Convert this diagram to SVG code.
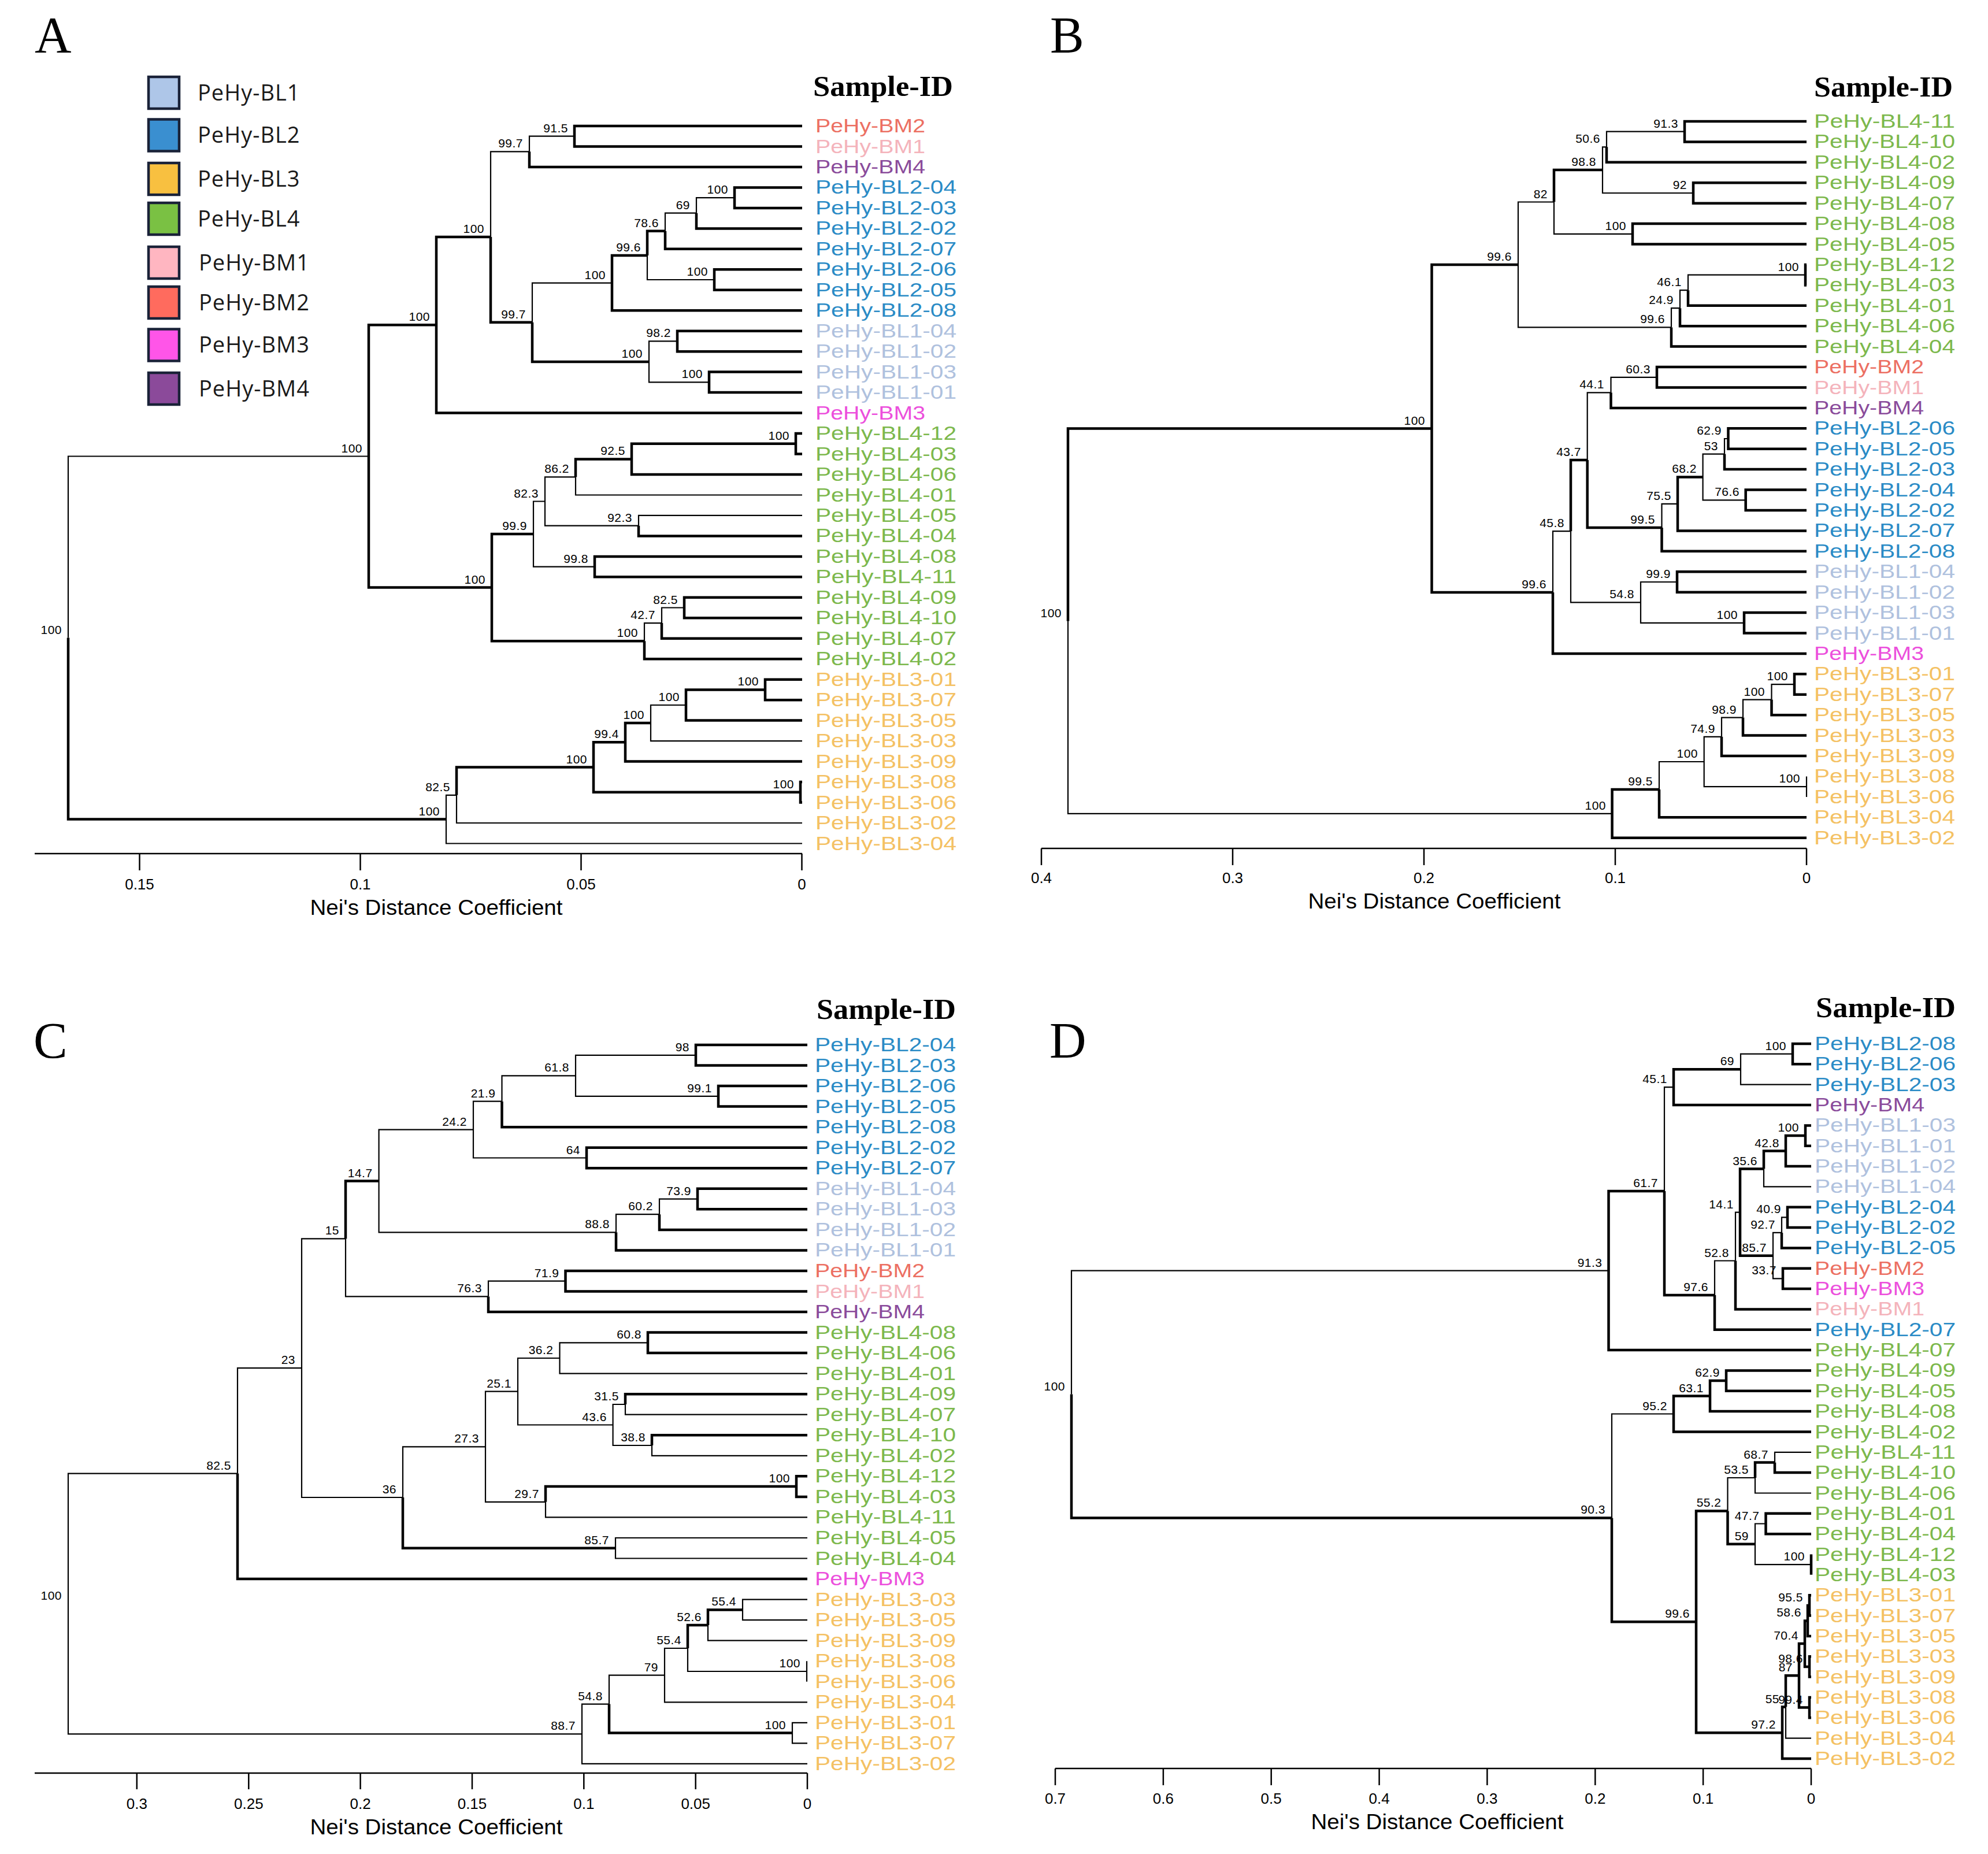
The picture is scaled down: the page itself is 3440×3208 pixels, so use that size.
<svg xmlns="http://www.w3.org/2000/svg" width="3440" height="3208" viewBox="0 0 3440 3208">
<style>
.bg{fill:#fff}
.e{fill:none;stroke:#000;stroke-linejoin:miter;stroke-linecap:butt}
.k{stroke-width:4.5}
.t{stroke-width:2.2}
.ax{fill:none;stroke:#000;stroke-width:2.5}
.nl{font-family:"Liberation Sans",Arial,Helvetica,sans-serif;font-size:21px;text-anchor:end;fill:#000;letter-spacing:0.5px}
.lf{font-family:"Liberation Sans",Arial,Helvetica,sans-serif;font-size:33px}
.tk{font-family:"Liberation Sans",Arial,Helvetica,sans-serif;font-size:26px;text-anchor:middle;fill:#000}
.ttl{font-family:"Liberation Sans",Arial,Helvetica,sans-serif;font-size:36px;text-anchor:middle;fill:#000}
.sid{font-family:"Liberation Serif","Times New Roman",serif;font-weight:bold;font-size:50px;fill:#000}
.pl{font-family:"Liberation Serif","Times New Roman",serif;font-size:88px;fill:#000}
.lg{font-family:"Open Sans","DejaVu Sans",sans-serif;font-size:38px;letter-spacing:1px;fill:#1a1a1a}
.lgb{stroke:#1a2238;stroke-width:4.5}
.c1{fill:#afc1de}.c2{fill:#2a8bc6}.c3{fill:#f4c163}.c4{fill:#7cb84c}
.m1{fill:#f4b3bb}.m2{fill:#ec6f62}.m3{fill:#ec4fdc}.m4{fill:#8a4b9b}
</style>
<rect class="bg" x="0" y="0" width="3440" height="3208"/>

<g id="legend">
<g id="leg-BL1"><rect class="lgb" x="257" y="133" width="53" height="55" fill="#aec6e8"/><text class="lg" x="342" y="173.5">PeHy-BL1</text></g>
<g id="leg-BL2"><rect class="lgb" x="257" y="206.5" width="53" height="55" fill="#3a8fd0"/><text class="lg" x="342" y="247">PeHy-BL2</text></g>
<g id="leg-BL3"><rect class="lgb" x="257" y="282" width="53" height="55" fill="#f8c040"/><text class="lg" x="342" y="322.5">PeHy-BL3</text></g>
<g id="leg-BL4"><rect class="lgb" x="257" y="351" width="53" height="55" fill="#7ac143"/><text class="lg" x="342" y="391.5">PeHy-BL4</text></g>
<g id="leg-BM1"><rect class="lgb" x="257" y="427" width="53" height="55" fill="#ffb6c1"/><text class="lg" x="344" y="467.5">PeHy-BM1</text></g>
<g id="leg-BM2"><rect class="lgb" x="257" y="496" width="53" height="55" fill="#ff6b5e"/><text class="lg" x="344" y="536.5">PeHy-BM2</text></g>
<g id="leg-BM3"><rect class="lgb" x="257" y="569.5" width="53" height="55" fill="#ff55e8"/><text class="lg" x="344" y="610">PeHy-BM3</text></g>
<g id="leg-BM4"><rect class="lgb" x="257" y="645" width="53" height="55" fill="#8b4a9a"/><text class="lg" x="344" y="685.5">PeHy-BM4</text></g>
</g>

<!-- ================= PANEL A ================= -->
<g id="panelA">
<text class="pl" x="60" y="90">A</text>
<text class="sid" x="1407" y="166" textLength="242" lengthAdjust="spacingAndGlyphs">Sample-ID</text>
<g id="A-connectors">
<path class="e k" d="M994 235.7V218H1388M994 235.7V253.5H1388M916 262.3V288.9H1388M1271 342.1V324.4H1388M1271 342.1V359.9H1388M1205 368.7V395.4H1388M1151 399.8V430.8H1388M1236 484V466.3H1388M1236 484V501.8H1388M1120 441.9V399.8H1151M1059 489.6V441.9H1120M1059 489.6V537.2H1388M1172 590.4V572.7H1388M1172 590.4V608.2H1388M1227 661.4V643.6H1388M1227 661.4V679.1H1388M921 557.7V625.9H1123M849 410V557.7H921M755 562.3V410H849M755 562.3V714.6H1388M638 789.5V562.3H755M638 789.5V1016.6H851M1377 767.8V750.1H1388M1377 767.8V785.5H1388M1093 794.4V767.8H1377M1093 794.4V821H1388M996 825.4V794.4H1093M1105 909.7V927.4H1388M1029 980.6V962.9H1388M1029 980.6V998.3H1388M1184 1051.5V1033.8H1388M1184 1051.5V1069.3H1388M1145 1078.1V1104.8H1388M1115 1109.2V1140.2H1388M851 1016.6V924.1H923M851 1016.6V1109.2H1115M1324 1193.4V1175.7H1388M1324 1193.4V1211.2H1388M1187 1220V1193.4H1324M1187 1220V1246.6H1388M1082 1284.3V1251.1H1126M1082 1284.3V1317.6H1388M1385 1370.8V1353H1388M1385 1370.8V1388.5H1388M1027 1327.5V1284.3H1082M1027 1327.5V1370.8H1385M790 1375.8V1327.5H1027M118 1103.6V1417.6H772"/>
<path class="e t" d="M916 262.3V235.7H994M1205 368.7V342.1H1271M1151 399.8V368.7H1205M1120 441.9V484H1236M1123 625.9V590.4H1172M1123 625.9V661.4H1227M921 557.7V489.6H1059M849 410V262.3H916M996 825.4V856.5H1388M1105 909.7V891.9H1388M943 867.5V825.4H996M943 867.5V909.7H1105M923 924.1V867.5H943M923 924.1V980.6H1029M1145 1078.1V1051.5H1184M1115 1109.2V1078.1H1145M1126 1251.1V1220H1187M1126 1251.1V1282.1H1388M790 1375.8V1424H1388M772 1417.6V1375.8H790M772 1417.6V1459.5H1388M118 1103.6V789.5H638"/>
</g>
<g id="A-axis">
<path class="ax" d="M60 1477H1388M241.5 1477V1506M623.5 1477V1506M1005.5 1477V1506M1387.5 1477V1506"/>
<text class="tk" x="241.5" y="1539">0.15</text><text class="tk" x="623.5" y="1539">0.1</text><text class="tk" x="1005.5" y="1539">0.05</text><text class="tk" x="1387.5" y="1539">0</text>
<text class="ttl" x="755" y="1583" textLength="437" lengthAdjust="spacingAndGlyphs">Nei's Distance Coefficient</text>
</g>
<g id="A-nodes">
<g id="A-n1"><text class="nl" x="983" y="228.7">91.5</text></g>
<g id="A-n2"><text class="nl" x="905" y="255.3">99.7</text></g>
<g id="A-n3"><text class="nl" x="1260" y="335.1">100</text></g>
<g id="A-n4"><text class="nl" x="1194" y="361.7">69</text></g>
<g id="A-n5"><text class="nl" x="1140" y="392.8">78.6</text></g>
<g id="A-n6"><text class="nl" x="1225" y="477">100</text></g>
<g id="A-n7"><text class="nl" x="1109" y="434.9">99.6</text></g>
<g id="A-n8"><text class="nl" x="1048" y="482.6">100</text></g>
<g id="A-n9"><text class="nl" x="1161" y="583.4">98.2</text></g>
<g id="A-n10"><text class="nl" x="1216" y="654.4">100</text></g>
<g id="A-n11"><text class="nl" x="1112" y="618.9">100</text></g>
<g id="A-n12"><text class="nl" x="910" y="550.7">99.7</text></g>
<g id="A-n13"><text class="nl" x="838" y="403">100</text></g>
<g id="A-n14"><text class="nl" x="744" y="555.3">100</text></g>
<g id="A-n15"><text class="nl" x="1366" y="760.8">100</text></g>
<g id="A-n16"><text class="nl" x="1082" y="787.4">92.5</text></g>
<g id="A-n17"><text class="nl" x="985" y="818.4">86.2</text></g>
<g id="A-n18"><text class="nl" x="1094" y="902.7">92.3</text></g>
<g id="A-n19"><text class="nl" x="932" y="860.5">82.3</text></g>
<g id="A-n20"><text class="nl" x="1018" y="973.6">99.8</text></g>
<g id="A-n21"><text class="nl" x="912" y="917.1">99.9</text></g>
<g id="A-n22"><text class="nl" x="1173" y="1044.5">82.5</text></g>
<g id="A-n23"><text class="nl" x="1134" y="1071.1">42.7</text></g>
<g id="A-n24"><text class="nl" x="1104" y="1102.2">100</text></g>
<g id="A-n25"><text class="nl" x="840" y="1009.6">100</text></g>
<g id="A-n26"><text class="nl" x="627" y="782.5">100</text></g>
<g id="A-n27"><text class="nl" x="1313" y="1186.4">100</text></g>
<g id="A-n28"><text class="nl" x="1176" y="1213">100</text></g>
<g id="A-n29"><text class="nl" x="1115" y="1244.1">100</text></g>
<g id="A-n30"><text class="nl" x="1071" y="1277.3">99.4</text></g>
<g id="A-n31"><text class="nl" x="1374" y="1363.8">100</text></g>
<g id="A-n32"><text class="nl" x="1016" y="1320.5">100</text></g>
<g id="A-n33"><text class="nl" x="779" y="1368.8">82.5</text></g>
<g id="A-n34"><text class="nl" x="761" y="1410.6">100</text></g>
<g id="A-root"><text class="nl" x="107" y="1096.6">100</text></g>
</g>
<g id="A-leaves">
<g id="A-BM2"><text class="lf m2" x="1411" y="229" textLength="190" lengthAdjust="spacingAndGlyphs">PeHy-BM2</text></g>
<g id="A-BM1"><text class="lf m1" x="1411" y="264.5" textLength="190" lengthAdjust="spacingAndGlyphs">PeHy-BM1</text></g>
<g id="A-BM4"><text class="lf m4" x="1411" y="299.9" textLength="190" lengthAdjust="spacingAndGlyphs">PeHy-BM4</text></g>
<g id="A-BL2-04"><text class="lf c2" x="1411" y="335.4" textLength="244" lengthAdjust="spacingAndGlyphs">PeHy-BL2-04</text></g>
<g id="A-BL2-03"><text class="lf c2" x="1411" y="370.9" textLength="244" lengthAdjust="spacingAndGlyphs">PeHy-BL2-03</text></g>
<g id="A-BL2-02"><text class="lf c2" x="1411" y="406.4" textLength="244" lengthAdjust="spacingAndGlyphs">PeHy-BL2-02</text></g>
<g id="A-BL2-07"><text class="lf c2" x="1411" y="441.8" textLength="244" lengthAdjust="spacingAndGlyphs">PeHy-BL2-07</text></g>
<g id="A-BL2-06"><text class="lf c2" x="1411" y="477.3" textLength="244" lengthAdjust="spacingAndGlyphs">PeHy-BL2-06</text></g>
<g id="A-BL2-05"><text class="lf c2" x="1411" y="512.8" textLength="244" lengthAdjust="spacingAndGlyphs">PeHy-BL2-05</text></g>
<g id="A-BL2-08"><text class="lf c2" x="1411" y="548.2" textLength="244" lengthAdjust="spacingAndGlyphs">PeHy-BL2-08</text></g>
<g id="A-BL1-04"><text class="lf c1" x="1411" y="583.7" textLength="244" lengthAdjust="spacingAndGlyphs">PeHy-BL1-04</text></g>
<g id="A-BL1-02"><text class="lf c1" x="1411" y="619.2" textLength="244" lengthAdjust="spacingAndGlyphs">PeHy-BL1-02</text></g>
<g id="A-BL1-03"><text class="lf c1" x="1411" y="654.6" textLength="244" lengthAdjust="spacingAndGlyphs">PeHy-BL1-03</text></g>
<g id="A-BL1-01"><text class="lf c1" x="1411" y="690.1" textLength="244" lengthAdjust="spacingAndGlyphs">PeHy-BL1-01</text></g>
<g id="A-BM3"><text class="lf m3" x="1411" y="725.6" textLength="190" lengthAdjust="spacingAndGlyphs">PeHy-BM3</text></g>
<g id="A-BL4-12"><text class="lf c4" x="1411" y="761.1" textLength="244" lengthAdjust="spacingAndGlyphs">PeHy-BL4-12</text></g>
<g id="A-BL4-03"><text class="lf c4" x="1411" y="796.5" textLength="244" lengthAdjust="spacingAndGlyphs">PeHy-BL4-03</text></g>
<g id="A-BL4-06"><text class="lf c4" x="1411" y="832" textLength="244" lengthAdjust="spacingAndGlyphs">PeHy-BL4-06</text></g>
<g id="A-BL4-01"><text class="lf c4" x="1411" y="867.5" textLength="244" lengthAdjust="spacingAndGlyphs">PeHy-BL4-01</text></g>
<g id="A-BL4-05"><text class="lf c4" x="1411" y="902.9" textLength="244" lengthAdjust="spacingAndGlyphs">PeHy-BL4-05</text></g>
<g id="A-BL4-04"><text class="lf c4" x="1411" y="938.4" textLength="244" lengthAdjust="spacingAndGlyphs">PeHy-BL4-04</text></g>
<g id="A-BL4-08"><text class="lf c4" x="1411" y="973.9" textLength="244" lengthAdjust="spacingAndGlyphs">PeHy-BL4-08</text></g>
<g id="A-BL4-11"><text class="lf c4" x="1411" y="1009.3" textLength="244" lengthAdjust="spacingAndGlyphs">PeHy-BL4-11</text></g>
<g id="A-BL4-09"><text class="lf c4" x="1411" y="1044.8" textLength="244" lengthAdjust="spacingAndGlyphs">PeHy-BL4-09</text></g>
<g id="A-BL4-10"><text class="lf c4" x="1411" y="1080.3" textLength="244" lengthAdjust="spacingAndGlyphs">PeHy-BL4-10</text></g>
<g id="A-BL4-07"><text class="lf c4" x="1411" y="1115.8" textLength="244" lengthAdjust="spacingAndGlyphs">PeHy-BL4-07</text></g>
<g id="A-BL4-02"><text class="lf c4" x="1411" y="1151.2" textLength="244" lengthAdjust="spacingAndGlyphs">PeHy-BL4-02</text></g>
<g id="A-BL3-01"><text class="lf c3" x="1411" y="1186.7" textLength="244" lengthAdjust="spacingAndGlyphs">PeHy-BL3-01</text></g>
<g id="A-BL3-07"><text class="lf c3" x="1411" y="1222.2" textLength="244" lengthAdjust="spacingAndGlyphs">PeHy-BL3-07</text></g>
<g id="A-BL3-05"><text class="lf c3" x="1411" y="1257.6" textLength="244" lengthAdjust="spacingAndGlyphs">PeHy-BL3-05</text></g>
<g id="A-BL3-03"><text class="lf c3" x="1411" y="1293.1" textLength="244" lengthAdjust="spacingAndGlyphs">PeHy-BL3-03</text></g>
<g id="A-BL3-09"><text class="lf c3" x="1411" y="1328.6" textLength="244" lengthAdjust="spacingAndGlyphs">PeHy-BL3-09</text></g>
<g id="A-BL3-08"><text class="lf c3" x="1411" y="1364" textLength="244" lengthAdjust="spacingAndGlyphs">PeHy-BL3-08</text></g>
<g id="A-BL3-06"><text class="lf c3" x="1411" y="1399.5" textLength="244" lengthAdjust="spacingAndGlyphs">PeHy-BL3-06</text></g>
<g id="A-BL3-02"><text class="lf c3" x="1411" y="1435" textLength="244" lengthAdjust="spacingAndGlyphs">PeHy-BL3-02</text></g>
<g id="A-BL3-04"><text class="lf c3" x="1411" y="1470.5" textLength="244" lengthAdjust="spacingAndGlyphs">PeHy-BL3-04</text></g>
</g>
</g>

<!-- ================= PANEL B ================= -->
<g id="panelB">
<text class="pl" x="1817" y="90">B</text>
<text class="sid" x="3139" y="167" textLength="240" lengthAdjust="spacingAndGlyphs">Sample-ID</text>
<g id="B-connectors">
<path class="e k" d="M2915 227.7V210H3126M2915 227.7V245.4H3126M2780 254.3V280.8H3126M2930 334V316.3H3126M2930 334V351.7H3126M2825 404.8V387.1H3126M2825 404.8V422.5H3126M2689 349.5V294.1H2773M3124 475.7V457.9H3126M3124 475.7V493.4H3126M2921 502.2V528.8H3126M2907 533.2V564.2H3126M2892 566.4V599.6H3126M2867 652.8V635H3126M2867 652.8V670.5H3126M2787.5 679.3V705.9H3126M2990.5 759V741.3H3126M2990.5 759V776.7H3126M2984 785.6V812.1H3126M3020.7 865.3V847.6H3126M3020.7 865.3V883H3126M2903 871.9V825.4H2946.6M2903 871.9V918.4H3126M2875.5 912.9V953.8H3126M2746.7 796.1V912.9H2875.5M2902 1007V989.2H3126M2902 1007V1024.7H3126M3018 1077.8V1060.1H3126M3018 1077.8V1095.5H3126M2718 919.2V796.1H2746.7M2687 1025.1V1130.9H3126M2477.5 741.5V457.9H2627M2477.5 741.5V1025.1H2687M3105 1184.1V1166.3H3126M3105 1184.1V1201.8H3126M3065.5 1210.6V1237.2H3126M3016 1241.6V1272.6H3126M2979 1274.8V1308H3126M2871 1366.1V1414.3H3126M2789.6 1407.9V1366.1H2871M2789.6 1407.9V1449.7H3126M1848 1074.7V741.5H2477.5"/>
<path class="e t" d="M2780 254.3V227.7H2915M2773 294.1V254.3H2780M2773 294.1V334H2930M2689 349.5V404.8H2825M2921 502.2V475.7H3124M2907 533.2V502.2H2921M2892 566.4V533.2H2907M2627 457.9V349.5H2689M2627 457.9V566.4H2892M2787.5 679.3V652.8H2867M2984 785.6V759H2990.5M2946.6 825.4V785.6H2984M2946.6 825.4V865.3H3020.7M2875.5 912.9V871.9H2903M2746.7 796.1V679.3H2787.5M2839 1042.4V1007H2902M2839 1042.4V1077.8H3018M2718 919.2V1042.4H2839M2687 1025.1V919.2H2718M3065.5 1210.6V1184.1H3105M3016 1241.6V1210.6H3065.5M2979 1274.8V1241.6H3016M3126 1343.4V1378.9M2948.7 1318V1274.8H2979M2948.7 1318V1361.2H3126M2871 1366.1V1318H2948.7M1848 1074.7V1407.9H2789.6"/>
</g>
<g id="B-axis">
<path class="ax" d="M1802 1468H3126M1802 1468V1497M2133 1468V1497M2464 1468V1497M2795 1468V1497M3126 1468V1497"/>
<text class="tk" x="1802" y="1528">0.4</text><text class="tk" x="2133" y="1528">0.3</text><text class="tk" x="2464" y="1528">0.2</text><text class="tk" x="2795" y="1528">0.1</text><text class="tk" x="3126" y="1528">0</text>
<text class="ttl" x="2482" y="1572" textLength="437" lengthAdjust="spacingAndGlyphs">Nei's Distance Coefficient</text>
</g>
<g id="B-nodes">
<g id="B-n1"><text class="nl" x="2904" y="220.7">91.3</text></g>
<g id="B-n2"><text class="nl" x="2769" y="247.3">50.6</text></g>
<g id="B-n3"><text class="nl" x="2919" y="327">92</text></g>
<g id="B-n4"><text class="nl" x="2762" y="287.1">98.8</text></g>
<g id="B-n5"><text class="nl" x="2814" y="397.8">100</text></g>
<g id="B-n6"><text class="nl" x="2678" y="342.5">82</text></g>
<g id="B-n7"><text class="nl" x="3113" y="468.7">100</text></g>
<g id="B-n8"><text class="nl" x="2910" y="495.2">46.1</text></g>
<g id="B-n9"><text class="nl" x="2896" y="526.2">24.9</text></g>
<g id="B-n10"><text class="nl" x="2881" y="559.4">99.6</text></g>
<g id="B-n11"><text class="nl" x="2616" y="450.9">99.6</text></g>
<g id="B-n12"><text class="nl" x="2856" y="645.8">60.3</text></g>
<g id="B-n13"><text class="nl" x="2776" y="672.3">44.1</text></g>
<g id="B-n14"><text class="nl" x="2979" y="752">62.9</text></g>
<g id="B-n15"><text class="nl" x="2973" y="778.6">53</text></g>
<g id="B-n16"><text class="nl" x="3010" y="858.3">76.6</text></g>
<g id="B-n17"><text class="nl" x="2936" y="818.4">68.2</text></g>
<g id="B-n18"><text class="nl" x="2892" y="864.9">75.5</text></g>
<g id="B-n19"><text class="nl" x="2864" y="905.9">99.5</text></g>
<g id="B-n20"><text class="nl" x="2736" y="789.1">43.7</text></g>
<g id="B-n21"><text class="nl" x="2891" y="1000">99.9</text></g>
<g id="B-n22"><text class="nl" x="3007" y="1070.8">100</text></g>
<g id="B-n23"><text class="nl" x="2828" y="1035.4">54.8</text></g>
<g id="B-n24"><text class="nl" x="2707" y="912.2">45.8</text></g>
<g id="B-n25"><text class="nl" x="2676" y="1018.1">99.6</text></g>
<g id="B-n26"><text class="nl" x="2466" y="734.5">100</text></g>
<g id="B-n27"><text class="nl" x="3094" y="1177.1">100</text></g>
<g id="B-n28"><text class="nl" x="3054" y="1203.6">100</text></g>
<g id="B-n29"><text class="nl" x="3005" y="1234.6">98.9</text></g>
<g id="B-n30"><text class="nl" x="2968" y="1267.8">74.9</text></g>
<g id="B-n31"><text class="nl" x="3115" y="1354.2">100</text></g>
<g id="B-n32"><text class="nl" x="2938" y="1311">100</text></g>
<g id="B-n33"><text class="nl" x="2860" y="1359.1">99.5</text></g>
<g id="B-n34"><text class="nl" x="2779" y="1400.9">100</text></g>
<g id="B-root"><text class="nl" x="1837" y="1067.7">100</text></g>
</g>
<g id="B-leaves">
<g id="B-BL4-11"><text class="lf c4" x="3139" y="221" textLength="244" lengthAdjust="spacingAndGlyphs">PeHy-BL4-11</text></g>
<g id="B-BL4-10"><text class="lf c4" x="3139" y="256.4" textLength="244" lengthAdjust="spacingAndGlyphs">PeHy-BL4-10</text></g>
<g id="B-BL4-02"><text class="lf c4" x="3139" y="291.8" textLength="244" lengthAdjust="spacingAndGlyphs">PeHy-BL4-02</text></g>
<g id="B-BL4-09"><text class="lf c4" x="3139" y="327.3" textLength="244" lengthAdjust="spacingAndGlyphs">PeHy-BL4-09</text></g>
<g id="B-BL4-07"><text class="lf c4" x="3139" y="362.7" textLength="244" lengthAdjust="spacingAndGlyphs">PeHy-BL4-07</text></g>
<g id="B-BL4-08"><text class="lf c4" x="3139" y="398.1" textLength="244" lengthAdjust="spacingAndGlyphs">PeHy-BL4-08</text></g>
<g id="B-BL4-05"><text class="lf c4" x="3139" y="433.5" textLength="244" lengthAdjust="spacingAndGlyphs">PeHy-BL4-05</text></g>
<g id="B-BL4-12"><text class="lf c4" x="3139" y="468.9" textLength="244" lengthAdjust="spacingAndGlyphs">PeHy-BL4-12</text></g>
<g id="B-BL4-03"><text class="lf c4" x="3139" y="504.4" textLength="244" lengthAdjust="spacingAndGlyphs">PeHy-BL4-03</text></g>
<g id="B-BL4-01"><text class="lf c4" x="3139" y="539.8" textLength="244" lengthAdjust="spacingAndGlyphs">PeHy-BL4-01</text></g>
<g id="B-BL4-06"><text class="lf c4" x="3139" y="575.2" textLength="244" lengthAdjust="spacingAndGlyphs">PeHy-BL4-06</text></g>
<g id="B-BL4-04"><text class="lf c4" x="3139" y="610.6" textLength="244" lengthAdjust="spacingAndGlyphs">PeHy-BL4-04</text></g>
<g id="B-BM2"><text class="lf m2" x="3139" y="646" textLength="190" lengthAdjust="spacingAndGlyphs">PeHy-BM2</text></g>
<g id="B-BM1"><text class="lf m1" x="3139" y="681.5" textLength="190" lengthAdjust="spacingAndGlyphs">PeHy-BM1</text></g>
<g id="B-BM4"><text class="lf m4" x="3139" y="716.9" textLength="190" lengthAdjust="spacingAndGlyphs">PeHy-BM4</text></g>
<g id="B-BL2-06"><text class="lf c2" x="3139" y="752.3" textLength="244" lengthAdjust="spacingAndGlyphs">PeHy-BL2-06</text></g>
<g id="B-BL2-05"><text class="lf c2" x="3139" y="787.7" textLength="244" lengthAdjust="spacingAndGlyphs">PeHy-BL2-05</text></g>
<g id="B-BL2-03"><text class="lf c2" x="3139" y="823.1" textLength="244" lengthAdjust="spacingAndGlyphs">PeHy-BL2-03</text></g>
<g id="B-BL2-04"><text class="lf c2" x="3139" y="858.6" textLength="244" lengthAdjust="spacingAndGlyphs">PeHy-BL2-04</text></g>
<g id="B-BL2-02"><text class="lf c2" x="3139" y="894" textLength="244" lengthAdjust="spacingAndGlyphs">PeHy-BL2-02</text></g>
<g id="B-BL2-07"><text class="lf c2" x="3139" y="929.4" textLength="244" lengthAdjust="spacingAndGlyphs">PeHy-BL2-07</text></g>
<g id="B-BL2-08"><text class="lf c2" x="3139" y="964.8" textLength="244" lengthAdjust="spacingAndGlyphs">PeHy-BL2-08</text></g>
<g id="B-BL1-04"><text class="lf c1" x="3139" y="1000.2" textLength="244" lengthAdjust="spacingAndGlyphs">PeHy-BL1-04</text></g>
<g id="B-BL1-02"><text class="lf c1" x="3139" y="1035.7" textLength="244" lengthAdjust="spacingAndGlyphs">PeHy-BL1-02</text></g>
<g id="B-BL1-03"><text class="lf c1" x="3139" y="1071.1" textLength="244" lengthAdjust="spacingAndGlyphs">PeHy-BL1-03</text></g>
<g id="B-BL1-01"><text class="lf c1" x="3139" y="1106.5" textLength="244" lengthAdjust="spacingAndGlyphs">PeHy-BL1-01</text></g>
<g id="B-BM3"><text class="lf m3" x="3139" y="1141.9" textLength="190" lengthAdjust="spacingAndGlyphs">PeHy-BM3</text></g>
<g id="B-BL3-01"><text class="lf c3" x="3139" y="1177.3" textLength="244" lengthAdjust="spacingAndGlyphs">PeHy-BL3-01</text></g>
<g id="B-BL3-07"><text class="lf c3" x="3139" y="1212.8" textLength="244" lengthAdjust="spacingAndGlyphs">PeHy-BL3-07</text></g>
<g id="B-BL3-05"><text class="lf c3" x="3139" y="1248.2" textLength="244" lengthAdjust="spacingAndGlyphs">PeHy-BL3-05</text></g>
<g id="B-BL3-03"><text class="lf c3" x="3139" y="1283.6" textLength="244" lengthAdjust="spacingAndGlyphs">PeHy-BL3-03</text></g>
<g id="B-BL3-09"><text class="lf c3" x="3139" y="1319" textLength="244" lengthAdjust="spacingAndGlyphs">PeHy-BL3-09</text></g>
<g id="B-BL3-08"><text class="lf c3" x="3139" y="1354.4" textLength="244" lengthAdjust="spacingAndGlyphs">PeHy-BL3-08</text></g>
<g id="B-BL3-06"><text class="lf c3" x="3139" y="1389.9" textLength="244" lengthAdjust="spacingAndGlyphs">PeHy-BL3-06</text></g>
<g id="B-BL3-04"><text class="lf c3" x="3139" y="1425.3" textLength="244" lengthAdjust="spacingAndGlyphs">PeHy-BL3-04</text></g>
<g id="B-BL3-02"><text class="lf c3" x="3139" y="1460.7" textLength="244" lengthAdjust="spacingAndGlyphs">PeHy-BL3-02</text></g>
</g>
</g>

<!-- ================= PANEL C ================= -->
<g id="panelC">
<text class="pl" x="58" y="1830">C</text>
<text class="sid" x="1413" y="1763" textLength="241" lengthAdjust="spacingAndGlyphs">Sample-ID</text>
<g id="C-connectors">
<path class="e k" d="M1204 1825.8V1808H1397M1204 1825.8V1843.5H1397M1243 1896.9V1879.1H1397M1243 1896.9V1914.6H1397M868.5 1905.7V1950.2H1397M1015 2003.5V1985.7H1397M1015 2003.5V2021.2H1397M1207 2074.6V2056.8H1397M1207 2074.6V2092.3H1397M1141 2101.2V2127.9H1397M1066 2132.3V2163.4H1397M978.5 2216.7V2198.9H1397M978.5 2216.7V2234.5H1397M845 2243.4V2270H1397M598 2143.4V2043.5H655.6M1121 2323.3V2305.6H1397M1121 2323.3V2341.1H1397M1082 2430V2412.2H1397M1128 2501V2483.3H1397M1378 2572.1V2554.3H1397M1378 2572.1V2589.9H1397M944 2598.8V2572.1H1378M697 2591V2678.7H1065M411 2549.6V2732H1397M1225 2812V2785.4H1285M1190 2852V2812H1225M1054 2948.6V2998.6H1371"/>
<path class="e t" d="M996 1861.3V1825.8H1204M996 1861.3V1896.9H1243M868.5 1905.7V1861.3H996M819 1954.6V1905.7H868.5M819 1954.6V2003.5H1015M1141 2101.2V2074.6H1207M1066 2132.3V2101.2H1141M655.6 2043.5V1954.6H819M655.6 2043.5V2132.3H1066M845 2243.4V2216.7H978.5M598 2143.4V2243.4H845M968.5 2350V2323.3H1121M968.5 2350V2376.6H1397M1082 2430V2447.7H1397M1128 2501V2518.8H1397M1060.6 2465.5V2430H1082M1060.6 2465.5V2501H1128M896 2407.7V2350H968.5M896 2407.7V2465.5H1060.6M944 2598.8V2625.4H1397M840 2503.3V2407.7H896M840 2503.3V2598.8H944M1065 2678.7V2661H1397M1065 2678.7V2696.5H1397M697 2591V2503.3H840M522 2367.2V2143.4H598M522 2367.2V2591H697M411 2549.6V2367.2H522M1285 2785.4V2767.6H1397M1285 2785.4V2803.1H1397M1225 2812V2838.7H1397M1396 2874.2V2909.7M1190 2852V2892H1396M1150 2898.6V2852H1190M1150 2898.6V2945.3H1397M1371 2998.6V2980.8H1397M1371 2998.6V3016.4H1397M1054 2948.6V2898.6H1150M1007 3000.3V2948.6H1054M1007 3000.3V3051.9H1397M118 2775V2549.6H411M118 2775V3000.3H1007"/>
</g>
<g id="C-axis">
<path class="ax" d="M60 3068H1397M236.8 3068V3096M430.3 3068V3096M623.6 3068V3096M817 3068V3096M1010.3 3068V3096M1203.7 3068V3096M1397 3068V3096"/>
<text class="tk" x="236.8" y="3130">0.3</text><text class="tk" x="430.3" y="3130">0.25</text><text class="tk" x="623.6" y="3130">0.2</text><text class="tk" x="817" y="3130">0.15</text><text class="tk" x="1010.3" y="3130">0.1</text><text class="tk" x="1203.7" y="3130">0.05</text><text class="tk" x="1397" y="3130">0</text>
<text class="ttl" x="755" y="3174" textLength="437" lengthAdjust="spacingAndGlyphs">Nei's Distance Coefficient</text>
</g>
<g id="C-nodes">
<g id="C-n1"><text class="nl" x="1193" y="1818.8">98</text></g>
<g id="C-n2"><text class="nl" x="1232" y="1889.9">99.1</text></g>
<g id="C-n3"><text class="nl" x="985" y="1854.3">61.8</text></g>
<g id="C-n4"><text class="nl" x="857.5" y="1898.7">21.9</text></g>
<g id="C-n5"><text class="nl" x="1004" y="1996.5">64</text></g>
<g id="C-n6"><text class="nl" x="808" y="1947.6">24.2</text></g>
<g id="C-n7"><text class="nl" x="1196" y="2067.6">73.9</text></g>
<g id="C-n8"><text class="nl" x="1130" y="2094.2">60.2</text></g>
<g id="C-n9"><text class="nl" x="1055" y="2125.3">88.8</text></g>
<g id="C-n10"><text class="nl" x="644.6" y="2036.5">14.7</text></g>
<g id="C-n11"><text class="nl" x="967.5" y="2209.7">71.9</text></g>
<g id="C-n12"><text class="nl" x="834" y="2236.4">76.3</text></g>
<g id="C-n13"><text class="nl" x="587" y="2136.4">15</text></g>
<g id="C-n14"><text class="nl" x="1110" y="2316.3">60.8</text></g>
<g id="C-n15"><text class="nl" x="957.5" y="2343">36.2</text></g>
<g id="C-n16"><text class="nl" x="1071" y="2423">31.5</text></g>
<g id="C-n17"><text class="nl" x="1117" y="2494">38.8</text></g>
<g id="C-n18"><text class="nl" x="1050" y="2458.5">43.6</text></g>
<g id="C-n19"><text class="nl" x="885" y="2400.7">25.1</text></g>
<g id="C-n20"><text class="nl" x="1367" y="2565.1">100</text></g>
<g id="C-n21"><text class="nl" x="933" y="2591.8">29.7</text></g>
<g id="C-n22"><text class="nl" x="829" y="2496.3">27.3</text></g>
<g id="C-n23"><text class="nl" x="1054" y="2671.7">85.7</text></g>
<g id="C-n24"><text class="nl" x="686" y="2584">36</text></g>
<g id="C-n25"><text class="nl" x="511" y="2360.2">23</text></g>
<g id="C-n26"><text class="nl" x="400" y="2542.6">82.5</text></g>
<g id="C-n27"><text class="nl" x="1274" y="2778.4">55.4</text></g>
<g id="C-n28"><text class="nl" x="1214" y="2805">52.6</text></g>
<g id="C-n29"><text class="nl" x="1385" y="2885">100</text></g>
<g id="C-n30"><text class="nl" x="1179" y="2845">55.4</text></g>
<g id="C-n31"><text class="nl" x="1139" y="2891.6">79</text></g>
<g id="C-n32"><text class="nl" x="1360" y="2991.6">100</text></g>
<g id="C-n33"><text class="nl" x="1043" y="2941.6">54.8</text></g>
<g id="C-n34"><text class="nl" x="996" y="2993.3">88.7</text></g>
<g id="C-root"><text class="nl" x="107" y="2768">100</text></g>
</g>
<g id="C-leaves">
<g id="C-BL2-04"><text class="lf c2" x="1410" y="1819" textLength="244" lengthAdjust="spacingAndGlyphs">PeHy-BL2-04</text></g>
<g id="C-BL2-03"><text class="lf c2" x="1410" y="1854.5" textLength="244" lengthAdjust="spacingAndGlyphs">PeHy-BL2-03</text></g>
<g id="C-BL2-06"><text class="lf c2" x="1410" y="1890.1" textLength="244" lengthAdjust="spacingAndGlyphs">PeHy-BL2-06</text></g>
<g id="C-BL2-05"><text class="lf c2" x="1410" y="1925.6" textLength="244" lengthAdjust="spacingAndGlyphs">PeHy-BL2-05</text></g>
<g id="C-BL2-08"><text class="lf c2" x="1410" y="1961.2" textLength="244" lengthAdjust="spacingAndGlyphs">PeHy-BL2-08</text></g>
<g id="C-BL2-02"><text class="lf c2" x="1410" y="1996.7" textLength="244" lengthAdjust="spacingAndGlyphs">PeHy-BL2-02</text></g>
<g id="C-BL2-07"><text class="lf c2" x="1410" y="2032.2" textLength="244" lengthAdjust="spacingAndGlyphs">PeHy-BL2-07</text></g>
<g id="C-BL1-04"><text class="lf c1" x="1410" y="2067.8" textLength="244" lengthAdjust="spacingAndGlyphs">PeHy-BL1-04</text></g>
<g id="C-BL1-03"><text class="lf c1" x="1410" y="2103.3" textLength="244" lengthAdjust="spacingAndGlyphs">PeHy-BL1-03</text></g>
<g id="C-BL1-02"><text class="lf c1" x="1410" y="2138.9" textLength="244" lengthAdjust="spacingAndGlyphs">PeHy-BL1-02</text></g>
<g id="C-BL1-01"><text class="lf c1" x="1410" y="2174.4" textLength="244" lengthAdjust="spacingAndGlyphs">PeHy-BL1-01</text></g>
<g id="C-BM2"><text class="lf m2" x="1410" y="2209.9" textLength="190" lengthAdjust="spacingAndGlyphs">PeHy-BM2</text></g>
<g id="C-BM1"><text class="lf m1" x="1410" y="2245.5" textLength="190" lengthAdjust="spacingAndGlyphs">PeHy-BM1</text></g>
<g id="C-BM4"><text class="lf m4" x="1410" y="2281" textLength="190" lengthAdjust="spacingAndGlyphs">PeHy-BM4</text></g>
<g id="C-BL4-08"><text class="lf c4" x="1410" y="2316.6" textLength="244" lengthAdjust="spacingAndGlyphs">PeHy-BL4-08</text></g>
<g id="C-BL4-06"><text class="lf c4" x="1410" y="2352.1" textLength="244" lengthAdjust="spacingAndGlyphs">PeHy-BL4-06</text></g>
<g id="C-BL4-01"><text class="lf c4" x="1410" y="2387.6" textLength="244" lengthAdjust="spacingAndGlyphs">PeHy-BL4-01</text></g>
<g id="C-BL4-09"><text class="lf c4" x="1410" y="2423.2" textLength="244" lengthAdjust="spacingAndGlyphs">PeHy-BL4-09</text></g>
<g id="C-BL4-07"><text class="lf c4" x="1410" y="2458.7" textLength="244" lengthAdjust="spacingAndGlyphs">PeHy-BL4-07</text></g>
<g id="C-BL4-10"><text class="lf c4" x="1410" y="2494.3" textLength="244" lengthAdjust="spacingAndGlyphs">PeHy-BL4-10</text></g>
<g id="C-BL4-02"><text class="lf c4" x="1410" y="2529.8" textLength="244" lengthAdjust="spacingAndGlyphs">PeHy-BL4-02</text></g>
<g id="C-BL4-12"><text class="lf c4" x="1410" y="2565.3" textLength="244" lengthAdjust="spacingAndGlyphs">PeHy-BL4-12</text></g>
<g id="C-BL4-03"><text class="lf c4" x="1410" y="2600.9" textLength="244" lengthAdjust="spacingAndGlyphs">PeHy-BL4-03</text></g>
<g id="C-BL4-11"><text class="lf c4" x="1410" y="2636.4" textLength="244" lengthAdjust="spacingAndGlyphs">PeHy-BL4-11</text></g>
<g id="C-BL4-05"><text class="lf c4" x="1410" y="2672" textLength="244" lengthAdjust="spacingAndGlyphs">PeHy-BL4-05</text></g>
<g id="C-BL4-04"><text class="lf c4" x="1410" y="2707.5" textLength="244" lengthAdjust="spacingAndGlyphs">PeHy-BL4-04</text></g>
<g id="C-BM3"><text class="lf m3" x="1410" y="2743" textLength="190" lengthAdjust="spacingAndGlyphs">PeHy-BM3</text></g>
<g id="C-BL3-03"><text class="lf c3" x="1410" y="2778.6" textLength="244" lengthAdjust="spacingAndGlyphs">PeHy-BL3-03</text></g>
<g id="C-BL3-05"><text class="lf c3" x="1410" y="2814.1" textLength="244" lengthAdjust="spacingAndGlyphs">PeHy-BL3-05</text></g>
<g id="C-BL3-09"><text class="lf c3" x="1410" y="2849.7" textLength="244" lengthAdjust="spacingAndGlyphs">PeHy-BL3-09</text></g>
<g id="C-BL3-08"><text class="lf c3" x="1410" y="2885.2" textLength="244" lengthAdjust="spacingAndGlyphs">PeHy-BL3-08</text></g>
<g id="C-BL3-06"><text class="lf c3" x="1410" y="2920.7" textLength="244" lengthAdjust="spacingAndGlyphs">PeHy-BL3-06</text></g>
<g id="C-BL3-04"><text class="lf c3" x="1410" y="2956.3" textLength="244" lengthAdjust="spacingAndGlyphs">PeHy-BL3-04</text></g>
<g id="C-BL3-01"><text class="lf c3" x="1410" y="2991.8" textLength="244" lengthAdjust="spacingAndGlyphs">PeHy-BL3-01</text></g>
<g id="C-BL3-07"><text class="lf c3" x="1410" y="3027.4" textLength="244" lengthAdjust="spacingAndGlyphs">PeHy-BL3-07</text></g>
<g id="C-BL3-02"><text class="lf c3" x="1410" y="3062.9" textLength="244" lengthAdjust="spacingAndGlyphs">PeHy-BL3-02</text></g>
</g>
</g>

<!-- ================= PANEL D ================= -->
<g id="panelD">
<text class="pl" x="1816" y="1830">D</text>
<text class="sid" x="3142" y="1760" textLength="242" lengthAdjust="spacingAndGlyphs">Sample-ID</text>
<g id="D-connectors">
<path class="e k" d="M3102 1823.7V1806H3134M3102 1823.7V1841.3H3134M2896 1881.1V1850.2H3012M2896 1881.1V1912H3134M3124 1965V1947.4H3134M3124 1965V1982.7H3134M3090 1991.5V1965H3124M3090 1991.5V2018H3134M3052 2022.5V1991.5H3090M3093 2106.4V2088.7H3134M3093 2106.4V2124.1H3134M3083 2132.9V2159.4H3134M3085 2212.4V2194.7H3134M3085 2212.4V2230.1H3134M3011 2097.6V2022.5H3052M3011 2097.6V2172.7H3068M3003 2181.5V2265.4H3134M2967 2241.1V2300.8H3134M2880 2061.1V2241.1H2967M2783.5 2198.6V2061.1H2880M2783.5 2198.6V2336.1H3134M2987 2389.1V2371.4H3134M2987 2389.1V2406.8H3134M2959 2415.6V2389.1H2987M2959 2415.6V2442.1H3134M2896 2446.5V2415.6H2959M2896 2446.5V2477.5H3134M3071 2530.5V2548.1H3134M3037 2557V2530.5H3071M3055.5 2636.5V2618.8H3134M3055.5 2636.5V2654.2H3134M3134 2689.5V2724.8M2989.5 2614.4V2671.8H3037M3131 2777.9V2760.2H3134M3131 2777.9V2795.5H3134M3128 2804.4V2777.9H3131M3128 2804.4V2830.9H3134M3131 2883.9V2866.2H3134M3131 2883.9V2901.5H3134M3123 2844.1V2804.4H3128M3123 2844.1V2883.9H3131M3131 2954.6V2936.9H3134M3131 2954.6V2972.2H3134M3113 2899.3V2844.1H3123M3113 2899.3V2954.6H3131M3090 2953.5V2899.3H3113M3084 2998.2V2953.5H3090M3084 2998.2V3042.9H3134M2935 2806.3V2614.4H2989.5M2935 2806.3V2998.2H3084M2789 2626.4V2806.3H2935M1854 2412.5V2626.4H2789"/>
<path class="e t" d="M3012 1850.2V1823.7H3102M3012 1850.2V1876.7H3134M3052 2022.5V2053.4H3134M3083 2132.9V2106.4H3093M3068 2172.7V2132.9H3083M3068 2172.7V2212.4H3085M3003 2181.5V2097.6H3011M2967 2241.1V2181.5H3003M2880 2061.1V1881.1H2896M3071 2530.5V2512.8H3134M3037 2557V2583.5H3134M3037 2671.8V2636.5H3055.5M3037 2671.8V2707.2H3134M2989.5 2614.4V2557H3037M3090 2953.5V3007.6H3134M2789 2626.4V2446.5H2896M1854 2412.5V2198.6H2783.5"/>
</g>
<g id="D-axis">
<path class="ax" d="M1826 3060H3134M1826 3060V3089M2012.9 3060V3089M2199.7 3060V3089M2386.6 3060V3089M2573.4 3060V3089M2760.3 3060V3089M2947.1 3060V3089M3134 3060V3089"/>
<text class="tk" x="1826" y="3121">0.7</text><text class="tk" x="2012.9" y="3121">0.6</text><text class="tk" x="2199.7" y="3121">0.5</text><text class="tk" x="2386.6" y="3121">0.4</text><text class="tk" x="2573.4" y="3121">0.3</text><text class="tk" x="2760.3" y="3121">0.2</text><text class="tk" x="2947.1" y="3121">0.1</text><text class="tk" x="3134" y="3121">0</text>
<text class="ttl" x="2487" y="3165" textLength="437" lengthAdjust="spacingAndGlyphs">Nei's Distance Coefficient</text>
</g>
<g id="D-nodes">
<g id="D-n1"><text class="nl" x="3091" y="1816.7">100</text></g>
<g id="D-n2"><text class="nl" x="3001" y="1843.2">69</text></g>
<g id="D-n3"><text class="nl" x="2885" y="1874.1">45.1</text></g>
<g id="D-n4"><text class="nl" x="3113" y="1958">100</text></g>
<g id="D-n5"><text class="nl" x="3079" y="1984.5">42.8</text></g>
<g id="D-n6"><text class="nl" x="3041" y="2015.5">35.6</text></g>
<g id="D-n7"><text class="nl" x="3082" y="2099.4">40.9</text></g>
<g id="D-n8"><text class="nl" x="3072" y="2125.9">92.7</text></g>
<g id="D-n9"><text class="nl" x="3074" y="2205.4">33.7</text></g>
<g id="D-n10"><text class="nl" x="3057" y="2165.7">85.7</text></g>
<g id="D-n11"><text class="nl" x="3000" y="2090.6">14.1</text></g>
<g id="D-n12"><text class="nl" x="2992" y="2174.5">52.8</text></g>
<g id="D-n13"><text class="nl" x="2956" y="2234.1">97.6</text></g>
<g id="D-n14"><text class="nl" x="2869" y="2054.1">61.7</text></g>
<g id="D-n15"><text class="nl" x="2772.5" y="2191.6">91.3</text></g>
<g id="D-n16"><text class="nl" x="2976" y="2382.1">62.9</text></g>
<g id="D-n17"><text class="nl" x="2948" y="2408.6">63.1</text></g>
<g id="D-n18"><text class="nl" x="2885" y="2439.5">95.2</text></g>
<g id="D-n19"><text class="nl" x="3060" y="2523.5">68.7</text></g>
<g id="D-n20"><text class="nl" x="3026" y="2550">53.5</text></g>
<g id="D-n21"><text class="nl" x="3044.5" y="2629.5">47.7</text></g>
<g id="D-n22"><text class="nl" x="3123" y="2700.2">100</text></g>
<g id="D-n23"><text class="nl" x="3026" y="2664.8">59</text></g>
<g id="D-n24"><text class="nl" x="2978.5" y="2607.4">55.2</text></g>
<g id="D-n25"><text class="nl" x="3120" y="2770.9">95.5</text></g>
<g id="D-n26"><text class="nl" x="3117" y="2797.4">58.6</text></g>
<g id="D-n27"><text class="nl" x="3120" y="2876.9">98.6</text></g>
<g id="D-n28"><text class="nl" x="3112" y="2837.1">70.4</text></g>
<g id="D-n29"><text class="nl" x="3120" y="2947.6">99.4</text></g>
<g id="D-n30"><text class="nl" x="3102" y="2892.3">87</text></g>
<g id="D-n31"><text class="nl" x="3079" y="2946.5">55</text></g>
<g id="D-n32"><text class="nl" x="3073" y="2991.2">97.2</text></g>
<g id="D-n33"><text class="nl" x="2924" y="2799.3">99.6</text></g>
<g id="D-n34"><text class="nl" x="2778" y="2619.4">90.3</text></g>
<g id="D-root"><text class="nl" x="1843" y="2405.5">100</text></g>
</g>
<g id="D-leaves">
<g id="D-BL2-08"><text class="lf c2" x="3140" y="1817" textLength="244" lengthAdjust="spacingAndGlyphs">PeHy-BL2-08</text></g>
<g id="D-BL2-06"><text class="lf c2" x="3140" y="1852.3" textLength="244" lengthAdjust="spacingAndGlyphs">PeHy-BL2-06</text></g>
<g id="D-BL2-03"><text class="lf c2" x="3140" y="1887.7" textLength="244" lengthAdjust="spacingAndGlyphs">PeHy-BL2-03</text></g>
<g id="D-BM4"><text class="lf m4" x="3140" y="1923" textLength="190" lengthAdjust="spacingAndGlyphs">PeHy-BM4</text></g>
<g id="D-BL1-03"><text class="lf c1" x="3140" y="1958.4" textLength="244" lengthAdjust="spacingAndGlyphs">PeHy-BL1-03</text></g>
<g id="D-BL1-01"><text class="lf c1" x="3140" y="1993.7" textLength="244" lengthAdjust="spacingAndGlyphs">PeHy-BL1-01</text></g>
<g id="D-BL1-02"><text class="lf c1" x="3140" y="2029" textLength="244" lengthAdjust="spacingAndGlyphs">PeHy-BL1-02</text></g>
<g id="D-BL1-04"><text class="lf c1" x="3140" y="2064.4" textLength="244" lengthAdjust="spacingAndGlyphs">PeHy-BL1-04</text></g>
<g id="D-BL2-04"><text class="lf c2" x="3140" y="2099.7" textLength="244" lengthAdjust="spacingAndGlyphs">PeHy-BL2-04</text></g>
<g id="D-BL2-02"><text class="lf c2" x="3140" y="2135.1" textLength="244" lengthAdjust="spacingAndGlyphs">PeHy-BL2-02</text></g>
<g id="D-BL2-05"><text class="lf c2" x="3140" y="2170.4" textLength="244" lengthAdjust="spacingAndGlyphs">PeHy-BL2-05</text></g>
<g id="D-BM2"><text class="lf m2" x="3140" y="2205.7" textLength="190" lengthAdjust="spacingAndGlyphs">PeHy-BM2</text></g>
<g id="D-BM3"><text class="lf m3" x="3140" y="2241.1" textLength="190" lengthAdjust="spacingAndGlyphs">PeHy-BM3</text></g>
<g id="D-BM1"><text class="lf m1" x="3140" y="2276.4" textLength="190" lengthAdjust="spacingAndGlyphs">PeHy-BM1</text></g>
<g id="D-BL2-07"><text class="lf c2" x="3140" y="2311.8" textLength="244" lengthAdjust="spacingAndGlyphs">PeHy-BL2-07</text></g>
<g id="D-BL4-07"><text class="lf c4" x="3140" y="2347.1" textLength="244" lengthAdjust="spacingAndGlyphs">PeHy-BL4-07</text></g>
<g id="D-BL4-09"><text class="lf c4" x="3140" y="2382.4" textLength="244" lengthAdjust="spacingAndGlyphs">PeHy-BL4-09</text></g>
<g id="D-BL4-05"><text class="lf c4" x="3140" y="2417.8" textLength="244" lengthAdjust="spacingAndGlyphs">PeHy-BL4-05</text></g>
<g id="D-BL4-08"><text class="lf c4" x="3140" y="2453.1" textLength="244" lengthAdjust="spacingAndGlyphs">PeHy-BL4-08</text></g>
<g id="D-BL4-02"><text class="lf c4" x="3140" y="2488.5" textLength="244" lengthAdjust="spacingAndGlyphs">PeHy-BL4-02</text></g>
<g id="D-BL4-11"><text class="lf c4" x="3140" y="2523.8" textLength="244" lengthAdjust="spacingAndGlyphs">PeHy-BL4-11</text></g>
<g id="D-BL4-10"><text class="lf c4" x="3140" y="2559.1" textLength="244" lengthAdjust="spacingAndGlyphs">PeHy-BL4-10</text></g>
<g id="D-BL4-06"><text class="lf c4" x="3140" y="2594.5" textLength="244" lengthAdjust="spacingAndGlyphs">PeHy-BL4-06</text></g>
<g id="D-BL4-01"><text class="lf c4" x="3140" y="2629.8" textLength="244" lengthAdjust="spacingAndGlyphs">PeHy-BL4-01</text></g>
<g id="D-BL4-04"><text class="lf c4" x="3140" y="2665.2" textLength="244" lengthAdjust="spacingAndGlyphs">PeHy-BL4-04</text></g>
<g id="D-BL4-12"><text class="lf c4" x="3140" y="2700.5" textLength="244" lengthAdjust="spacingAndGlyphs">PeHy-BL4-12</text></g>
<g id="D-BL4-03"><text class="lf c4" x="3140" y="2735.8" textLength="244" lengthAdjust="spacingAndGlyphs">PeHy-BL4-03</text></g>
<g id="D-BL3-01"><text class="lf c3" x="3140" y="2771.2" textLength="244" lengthAdjust="spacingAndGlyphs">PeHy-BL3-01</text></g>
<g id="D-BL3-07"><text class="lf c3" x="3140" y="2806.5" textLength="244" lengthAdjust="spacingAndGlyphs">PeHy-BL3-07</text></g>
<g id="D-BL3-05"><text class="lf c3" x="3140" y="2841.9" textLength="244" lengthAdjust="spacingAndGlyphs">PeHy-BL3-05</text></g>
<g id="D-BL3-03"><text class="lf c3" x="3140" y="2877.2" textLength="244" lengthAdjust="spacingAndGlyphs">PeHy-BL3-03</text></g>
<g id="D-BL3-09"><text class="lf c3" x="3140" y="2912.5" textLength="244" lengthAdjust="spacingAndGlyphs">PeHy-BL3-09</text></g>
<g id="D-BL3-08"><text class="lf c3" x="3140" y="2947.9" textLength="244" lengthAdjust="spacingAndGlyphs">PeHy-BL3-08</text></g>
<g id="D-BL3-06"><text class="lf c3" x="3140" y="2983.2" textLength="244" lengthAdjust="spacingAndGlyphs">PeHy-BL3-06</text></g>
<g id="D-BL3-04"><text class="lf c3" x="3140" y="3018.6" textLength="244" lengthAdjust="spacingAndGlyphs">PeHy-BL3-04</text></g>
<g id="D-BL3-02"><text class="lf c3" x="3140" y="3053.9" textLength="244" lengthAdjust="spacingAndGlyphs">PeHy-BL3-02</text></g>
</g>
</g>
</svg>
